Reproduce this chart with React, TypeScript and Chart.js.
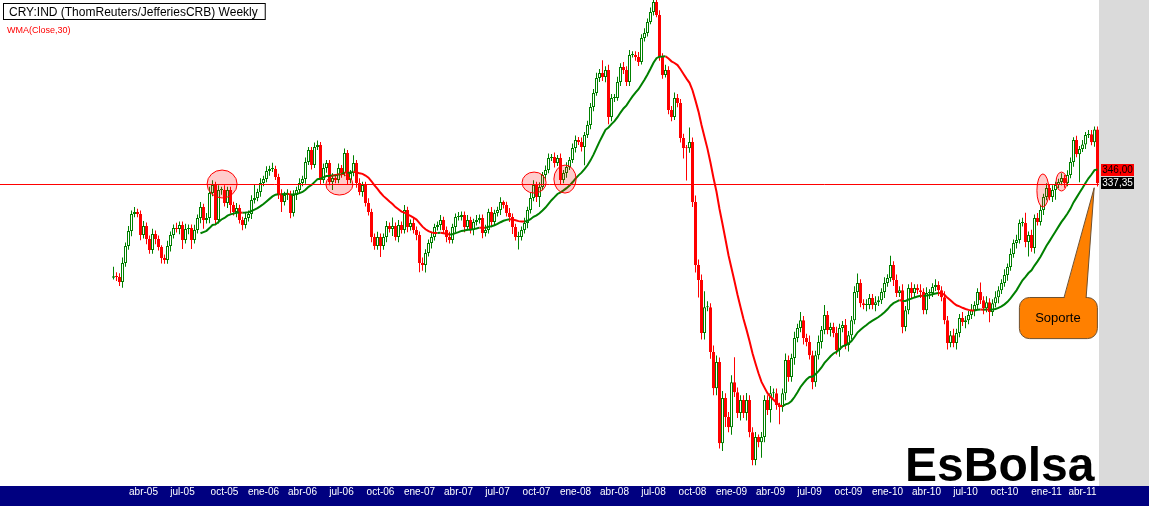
import React, { useEffect, useRef } from 'react';
import { Chart, registerables } from 'chart.js';

Chart.register(...registerables);

// ---------- DATA ----------
const START_DATE_UTC = Date.UTC(2005, 0, 21); // first weekly bar (Friday)
const MONTHS_ES = ['ene', 'feb', 'mar', 'abr', 'may', 'jun', 'jul', 'ago', 'sep', 'oct', 'nov', 'dic'];
const TICK_LABELS = [
  'abr-05', 'jul-05', 'oct-05', 'ene-06', 'abr-06', 'jul-06', 'oct-06', 'ene-07', 'abr-07', 'jul-07',
  'oct-07', 'ene-08', 'abr-08', 'jul-08', 'oct-08', 'ene-09', 'abr-09', 'jul-09', 'oct-09', 'ene-10',
  'abr-10', 'jul-10', 'oct-10', 'ene-11', 'abr-11',
];

const FIRST_OPEN = 283.0;
const CLOSES = [
  283.8, 283.3, 280.7, 290.8, 300.1, 308.6, 318.6, 319.7, 318.6, 306.4,
  311.5, 304.1, 297.9, 306.9, 304.1, 299.6, 293.5, 292.4, 300.1, 306.4,
  310.4, 309.8, 312.1, 303.5, 309.8, 310.4, 303.5, 309.2, 316.2, 322.7,
  315.0, 316.2, 331.2, 336.2, 315.0, 333.1, 333.1, 325.1, 333.1, 323.9,
  319.7, 322.1, 315.0, 312.1, 316.2, 318.6, 326.9, 328.2, 331.9, 337.5,
  340.0, 345.1, 346.4, 346.4, 341.3, 330.6, 325.7, 330.0, 330.6, 319.1,
  330.0, 333.1, 337.5, 340.0, 350.9, 358.8, 349.0, 360.8, 362.2, 339.3,
  347.0, 350.3, 338.1, 340.6, 339.3, 347.0, 343.8, 356.8, 339.3, 343.8,
  350.3, 337.5, 331.9, 336.2, 325.1, 319.7, 305.2, 300.1, 305.2, 300.1,
  305.2, 311.5, 309.8, 311.5, 305.2, 312.1, 309.2, 320.9, 310.9, 313.3,
  309.2, 306.4, 290.8, 289.7, 296.3, 301.8, 305.2, 310.9, 312.1, 315.0,
  309.2, 305.2, 303.5, 310.9, 316.8, 316.8, 318.0, 310.9, 315.0, 309.2,
  313.8, 315.0, 316.2, 307.5, 309.2, 319.7, 313.8, 319.1, 320.9, 325.7,
  323.9, 319.1, 316.8, 310.9, 305.2, 305.2, 309.2, 313.3, 320.9, 328.2,
  336.2, 328.8, 335.0, 342.5, 345.7, 353.5, 354.2, 350.3, 353.5, 339.3,
  343.8, 347.7, 352.2, 360.2, 365.6, 364.2, 360.8, 369.0, 375.9, 388.7,
  399.0, 410.3, 414.1, 411.0, 416.4, 381.5, 395.3, 395.3, 407.2, 418.7,
  416.4, 407.2, 428.2, 428.2, 426.6, 422.6, 442.0, 446.1, 455.3, 463.8,
  472.6, 461.3, 426.6, 412.6, 416.4, 386.5, 381.5, 395.3, 391.6, 366.9,
  360.2, 360.0, 364.2, 325.7, 289.7, 281.7, 255.3, 267.9, 267.9, 246.4,
  230.4, 241.9, 208.0, 226.2, 218.4, 214.3, 233.0, 228.7, 220.0, 225.4,
  220.0, 225.4, 212.3, 201.6, 210.4, 208.4, 210.4, 225.4, 221.2, 228.3,
  228.3, 223.3, 222.5, 228.3, 242.8, 235.2, 243.7, 252.9, 257.7, 261.5,
  252.9, 251.1, 245.0, 233.0, 245.0, 251.1, 256.7, 264.0, 256.7, 258.2,
  255.3, 247.3, 257.7, 259.1, 249.7, 254.3, 261.5, 275.5, 280.2, 269.9,
  268.9, 268.9, 272.5, 268.9, 270.4, 271.4, 275.5, 280.2, 282.8, 289.7,
  281.7, 275.0, 276.5, 258.2, 266.4, 277.6, 275.0, 277.6, 276.5, 275.5,
  266.4, 275.0, 275.0, 278.1, 279.1, 276.5, 272.9, 261.5, 250.6, 254.3,
  250.6, 255.3, 262.5, 260.6, 261.5, 264.0, 266.4, 268.9, 275.5, 271.4,
  267.4, 270.4, 265.5, 269.9, 272.9, 276.5, 280.2, 284.4, 288.6, 295.7,
  301.8, 303.5, 313.3, 313.3, 302.4, 306.4, 299.0, 316.2, 313.8, 320.9,
  328.8, 334.3, 328.8, 333.1, 336.2, 338.1, 340.6, 337.5, 342.5, 350.9,
  365.5, 356.0, 359.5, 362.5, 369.0, 369.5, 364.0, 372.85, 337.35,
];

// shadow lengths above / below the candle body (index points)
const UPPER_WICKS = [
  5, 2, 2, 3, 2, 3, 2, 3, 2, 2,
  3, 2, 2, 3, 2, 2, 1, 2, 3, 2,
  2, 3, 2, 2, 3, 2, 2, 3, 2, 3,
  2, 3, 4, 3, 2, 3, 2, 3, 2, 2,
  2, 3, 2, 2, 3, 2, 3, 8, 2, 3,
  2, 3, 2, 4, 2, 2, 3, 2, 3, 2,
  3, 2, 3, 2, 3, 2, 2, 3, 3, 2,
  3, 2, 2, 3, 2, 3, 2, 3, 2, 2,
  5, 2, 3, 2, 2, 3, 2, 2, 3, 2,
  2, 3, 2, 5, 2, 3, 2, 3, 2, 2,
  3, 2, 2, 3, 2, 2, 3, 2, 2, 3,
  2, 2, 3, 2, 2, 3, 2, 2, 3, 2,
  2, 3, 2, 2, 3, 2, 3, 2, 2, 3,
  1, 2, 3, 2, 2, 3, 2, 3, 2, 3,
  3, 2, 3, 2, 3, 3, 2, 3, 2, 3,
  2, 3, 2, 3, 3, 2, 3, 2, 3, 3,
  3, 4, 3, 10, 3, 4, 3, 3, 4, 3,
  4, 3, 4, 3, 3, 4, 3, 4, 3, 4,
  2, 3, 4, 3, 4, 3, 3, 4, 3, 3,
  3, 2, 10, 3, 4, 3, 3, 8, 3, 2,
  3, 3, 2, 3, 2, 2, 3, 11, 2, 2,
  2, 3, 2, 2, 2, 1, 2, 2, 2, 3,
  2, 2, 1, 2, 3, 2, 2, 3, 2, 4,
  2, 2, 3, 2, 2, 3, 2, 5, 2, 2,
  2, 3, 2, 2, 3, 2, 2, 3, 5, 2,
  2, 3, 2, 2, 3, 2, 2, 3, 2, 5,
  2, 3, 2, 3, 2, 2, 3, 2, 2, 3,
  2, 3, 2, 2, 3, 2, 2, 3, 2, 2,
  3, 2, 2, 3, 2, 2, 3, 2, 2, 5,
  2, 3, 2, 2, 3, 2, 2, 3, 2, 3,
  2, 3, 2, 3, 6, 2, 3, 2, 3, 3,
  2, 3, 2, 3, 2, 2, 3, 2, 3, 3,
  2, 3, 2, 3, 2, 3, 3, 2, 2,
];
const LOWER_WICKS = [
  1, 2, 2, 3, 2, 2, 3, 2, 2, 3,
  2, 3, 2, 2, 3, 2, 3, 2, 2, 3,
  2, 2, 3, 5, 2, 3, 5, 2, 2, 3,
  5, 2, 3, 2, 3, 2, 3, 2, 3, 5,
  2, 3, 2, 3, 2, 2, 3, 2, 2, 3,
  2, 2, 3, 2, 2, 3, 6, 2, 3, 3,
  2, 3, 2, 2, 3, 2, 3, 2, 2, 3,
  2, 3, 2, 5, 2, 2, 3, 2, 3, 2,
  2, 3, 2, 3, 2, 2, 3, 2, 2, 6,
  2, 3, 2, 4, 2, 3, 2, 2, 3, 2,
  2, 3, 5, 3, 4, 2, 3, 2, 2, 3,
  2, 3, 2, 2, 3, 2, 2, 3, 2, 2,
  3, 2, 2, 3, 2, 2, 3, 2, 2, 3,
  2, 2, 3, 4, 2, 7, 2, 2, 3, 2,
  2, 3, 6, 2, 3, 2, 2, 3, 2, 3,
  2, 3, 2, 2, 3, 2, 3, 12, 2, 3,
  3, 2, 3, 3, 4, 5, 3, 3, 2, 3,
  3, 3, 3, 2, 3, 3, 2, 3, 3, 2,
  3, 2, 3, 3, 2, 3, 3, 2, 3, 3,
  7, 21, 3, 3, 4, 9, 3, 3, 2, 3,
  3, 3, 2, 3, 4, 2, 3, 2, 2, 3,
  2, 3, 2, 2, 2, 2, 6, 2, 2, 5,
  2, 2, 7, 2, 3, 2, 2, 3, 2, 2,
  3, 2, 2, 3, 2, 2, 3, 2, 2, 3,
  2, 2, 3, 2, 2, 3, 2, 2, 3, 2,
  2, 3, 2, 2, 3, 2, 2, 3, 2, 2,
  3, 2, 2, 3, 2, 2, 3, 2, 2, 3,
  2, 2, 3, 2, 2, 3, 2, 2, 3, 2,
  2, 3, 2, 2, 3, 2, 2, 3, 2, 2,
  3, 2, 5, 2, 2, 3, 2, 2, 3, 2,
  2, 3, 2, 2, 3, 8, 2, 3, 2, 2,
  3, 2, 2, 3, 6, 2, 2, 3, 2, 2,
  3, 2, 18, 2, 3, 2, 2, 3, 2,
];

const WMA_PERIOD = 30;

// highlighted zones: [fromWeek, toWeek, lowPrice, highPrice]
const HIGHLIGHTS = [
  [31.2, 41.2, 328.2, 345.7],
  [70.8, 79.8, 330.0, 343.2],
  [136.2, 144.2, 331.2, 344.4],
  [146.8, 154.2, 331.2, 348.9],
  [307.8, 311.8, 322.7, 343.2],
  [314.2, 317.8, 332.5, 344.4],
];
// callout "Soporte": box [fromWeek, toWeek, lowPrice, highPrice], pointer base weeks, apex [week, price]
const CALLOUT_BOX = [301.8, 327.8, 252.9, 273.0];
const CALLOUT_BASE = [316.8, 324.2];
const CALLOUT_APEX = [326.9, 334.5];

const TITLE = 'CRY:IND (ThomReuters/JefferiesCRB) Weekly';
const INDICATOR_NAME = 'WMA(Close,30)';
const CALLOUT_TEXT = 'Soporte';
const LOGO_TEXT = 'EsBolsa';

// axis ranges
const X_MIN = -113.5 / 3;
const X_MAX = (1099 - 113.5) / 3;
const Y_MIN = 192.44;
const Y_MAX = 474.3;

const GREEN = '#008000';
const RED = '#FF0000';

// ---------- DERIVED ----------
const N = CLOSES.length;
const OPENS = CLOSES.map((c, i) => (i === 0 ? FIRST_OPEN : CLOSES[i - 1]));
const HIGHS = CLOSES.map((c, i) => Math.max(OPENS[i], c) + UPPER_WICKS[i]);
const LOWS = CLOSES.map((c, i) => Math.min(OPENS[i], c) - LOWER_WICKS[i]);
const IS_UP = CLOSES.map((c, i) => c >= OPENS[i]);

const WMA: { x: number; y: number }[] = [];
{
  const den = (WMA_PERIOD * (WMA_PERIOD + 1)) / 2;
  for (let i = WMA_PERIOD - 1; i < N; i++) {
    let s = 0;
    for (let k = 0; k < WMA_PERIOD; k++) s += (k + 1) * CLOSES[i - WMA_PERIOD + 1 + k];
    WMA.push({ x: i, y: s / den });
  }
}

const TICK_WEEKS: number[] = [];
const TICK_TEXT: Record<number, string> = {};
for (let i = 0; i < N; i++) {
  const d = new Date(START_DATE_UTC + i * 7 * 86400000);
  if (d.getUTCDate() <= 7) {
    const lab = MONTHS_ES[d.getUTCMonth()] + '-' + String(d.getUTCFullYear() % 100).padStart(2, '0');
    if (TICK_LABELS.includes(lab)) {
      TICK_WEEKS.push(i);
      TICK_TEXT[i] = lab;
    }
  }
}

const fmt = (v: number) => v.toFixed(2).replace('.', ',');

const decorPlugin = {
  id: 'decor',
  beforeDraw(chart: any) {
    const { ctx, width, height, chartArea } = chart;
    ctx.save();
    ctx.fillStyle = '#FFFFFF';
    ctx.fillRect(0, 0, width, height);
    ctx.fillStyle = '#DADADA';
    ctx.fillRect(chartArea.right, 0, width - chartArea.right, chartArea.bottom + 1);
    ctx.fillStyle = '#000080';
    ctx.fillRect(0, chartArea.bottom + 1, width, height - chartArea.bottom - 1);
    ctx.restore();
  },
  afterDatasetsDraw(chart: any) {
    const { ctx, chartArea } = chart;
    const xs = chart.scales.x;
    const ys = chart.scales.y;
    ctx.save();
    // highlight ellipses
    HIGHLIGHTS.forEach(([w1, w2, p1, p2]) => {
      const x1 = xs.getPixelForValue(w1);
      const x2 = xs.getPixelForValue(w2);
      const y1 = ys.getPixelForValue(p2);
      const y2 = ys.getPixelForValue(p1);
      ctx.beginPath();
      ctx.ellipse((x1 + x2) / 2, (y1 + y2) / 2, (x2 - x1) / 2, (y2 - y1) / 2, 0, 0, Math.PI * 2);
      ctx.fillStyle = 'rgba(255,0,0,0.2)';
      ctx.fill();
      ctx.strokeStyle = RED;
      ctx.lineWidth = 1;
      ctx.stroke();
    });
    // last close price line
    const yl = Math.ceil(ys.getPixelForValue(CLOSES[N - 1])) + 0.5;
    ctx.beginPath();
    ctx.moveTo(chartArea.left, yl);
    ctx.lineTo(chartArea.right, yl);
    ctx.strokeStyle = RED;
    ctx.lineWidth = 1;
    ctx.stroke();
    ctx.restore();
  },
  afterDraw(chart: any) {
    const { ctx, chartArea } = chart;
    const xs = chart.scales.x;
    const ys = chart.scales.y;
    ctx.save();
    // title box
    ctx.font = '12px "Liberation Sans", Arial, sans-serif';
    const tw = ctx.measureText(TITLE).width;
    ctx.fillStyle = '#FFFFFF';
    ctx.fillRect(3, 3, tw + 14, 17);
    ctx.strokeStyle = '#000000';
    ctx.lineWidth = 1;
    ctx.strokeRect(3.5, 3.5, tw + 13, 16);
    ctx.fillStyle = '#000000';
    ctx.textBaseline = 'alphabetic';
    ctx.textAlign = 'left';
    ctx.fillText(TITLE, 9, 16);
    // indicator name
    ctx.font = '9px "Liberation Sans", Arial, sans-serif';
    ctx.fillStyle = RED;
    ctx.fillText(INDICATOR_NAME, 7, 33);

    // price labels in right panel
    const lastW = WMA[WMA.length - 1].y;
    const lastC = CLOSES[N - 1];
    const bx = chartArea.right + 2;
    const bw = 33;
    const redTop = Math.round(ys.getPixelForValue(lastW) - 6);
    ctx.fillStyle = RED;
    ctx.fillRect(bx, redTop, bw, 12);
    const blackTop = Math.max(redTop + 13, Math.round(ys.getPixelForValue(lastC) - 6));
    ctx.fillStyle = '#000000';
    ctx.fillRect(bx, blackTop, bw, 12);
    ctx.font = '10px "Liberation Sans", Arial, sans-serif';
    ctx.textAlign = 'center';
    ctx.textBaseline = 'middle';
    ctx.fillStyle = '#000000';
    ctx.fillText(fmt(lastW), bx + bw / 2, redTop + 6.5);
    ctx.fillStyle = '#FFFFFF';
    ctx.fillText(fmt(lastC), bx + bw / 2, blackTop + 6.5);

    // callout
    const cx1 = xs.getPixelForValue(CALLOUT_BOX[0]);
    const cx2 = xs.getPixelForValue(CALLOUT_BOX[1]);
    const cy1 = ys.getPixelForValue(CALLOUT_BOX[3]);
    const cy2 = ys.getPixelForValue(CALLOUT_BOX[2]);
    ctx.beginPath();
    (ctx as any).roundRect(cx1 + 0.5, cy1 + 0.5, cx2 - cx1, cy2 - cy1, 10);
    ctx.fillStyle = '#FF8000';
    ctx.fill();
    ctx.strokeStyle = '#6E5030';
    ctx.lineWidth = 1;
    ctx.stroke();
    const b1 = xs.getPixelForValue(CALLOUT_BASE[0]);
    const b2 = xs.getPixelForValue(CALLOUT_BASE[1]);
    const ax = xs.getPixelForValue(CALLOUT_APEX[0]);
    const ay = ys.getPixelForValue(CALLOUT_APEX[1]);
    ctx.beginPath();
    ctx.moveTo(b1, cy1 + 2);
    ctx.lineTo(ax, ay);
    ctx.lineTo(b2, cy1 + 2);
    ctx.closePath();
    ctx.fillStyle = '#FF8000';
    ctx.fill();
    ctx.beginPath();
    ctx.moveTo(b1, cy1 + 1);
    ctx.lineTo(ax, ay);
    ctx.lineTo(b2, cy1 + 1);
    ctx.strokeStyle = '#6E5030';
    ctx.stroke();
    ctx.font = '13px "Liberation Sans", Arial, sans-serif';
    ctx.fillStyle = '#000000';
    ctx.textAlign = 'center';
    ctx.textBaseline = 'middle';
    ctx.fillText(CALLOUT_TEXT, (cx1 + cx2) / 2, (cy1 + cy2) / 2 + 1);

    // logo
    ctx.font = 'bold 48px "Liberation Sans", Arial, sans-serif';
    ctx.textAlign = 'left';
    ctx.textBaseline = 'alphabetic';
    ctx.fillStyle = '#000000';
    ctx.fillText(LOGO_TEXT, chartArea.right - 194, chartArea.bottom - 4);
    ctx.restore();
  },
};

export default function App() {
  const ref = useRef<HTMLCanvasElement | null>(null);
  useEffect(() => {
    document.body.style.margin = '0';
    const canvas = ref.current;
    if (!canvas) return;
    const chart = new Chart(canvas, {
      type: 'bar',
      data: {
        datasets: [
          {
            type: 'line',
            data: WMA,
            order: 0,
            borderColor: GREEN,
            borderWidth: 2,
            pointRadius: 0,
            tension: 0,
            fill: false,
            segment: {
              borderColor: (c: any) => (c.p1.parsed.y < c.p0.parsed.y ? RED : GREEN),
            },
          } as any,
          {
            type: 'bar',
            data: CLOSES.map((c, i) => ({ x: i, y: [OPENS[i], c] })),
            order: 1,
            grouped: false,
            barThickness: 3,
            borderWidth: 1,
            borderSkipped: false,
            minBarLength: 1,
            inflateAmount: 0,
            backgroundColor: IS_UP.map((u) => (u ? '#FFFFFF' : RED)),
            borderColor: IS_UP.map((u) => (u ? GREEN : RED)),
          } as any,
          {
            type: 'bar',
            data: CLOSES.map((c, i) => ({ x: i, y: [LOWS[i], HIGHS[i]] })),
            order: 2,
            grouped: false,
            barThickness: 1,
            borderWidth: 0,
            inflateAmount: 0,
            backgroundColor: IS_UP.map((u) => (u ? GREEN : RED)),
          } as any,
        ],
      },
      options: {
        animation: false,
        responsive: false,
        maintainAspectRatio: false,
        events: [],
        layout: { padding: { left: 0, top: 0, right: 50, bottom: 7 } },
        plugins: { legend: { display: false }, tooltip: { enabled: false }, title: { display: false } },
        scales: {
          x: {
            type: 'linear',
            min: X_MIN,
            max: X_MAX,
            offset: false,
            grid: { display: false, drawTicks: false },
            border: { display: false },
            afterBuildTicks: (axis: any) => {
              axis.ticks = TICK_WEEKS.map((v) => ({ value: v }));
            },
            ticks: {
              autoSkip: false,
              maxRotation: 0,
              minRotation: 0,
              padding: 1,
              color: '#FFFFFF',
              font: { family: '"Liberation Sans", Arial, sans-serif', size: 10, lineHeight: 1.2 },
              callback: (v: any) => TICK_TEXT[v] ?? '',
            },
          },
          y: { type: 'logarithmic', min: Y_MIN, max: Y_MAX, display: false },
        },
      } as any,
      plugins: [decorPlugin],
    });
    return () => chart.destroy();
  }, []);
  return (
    <div style={{ width: 1149, height: 506 }}>
      <canvas ref={ref} width={1149} height={506} style={{ display: 'block', width: 1149, height: 506 }} />
    </div>
  );
}
